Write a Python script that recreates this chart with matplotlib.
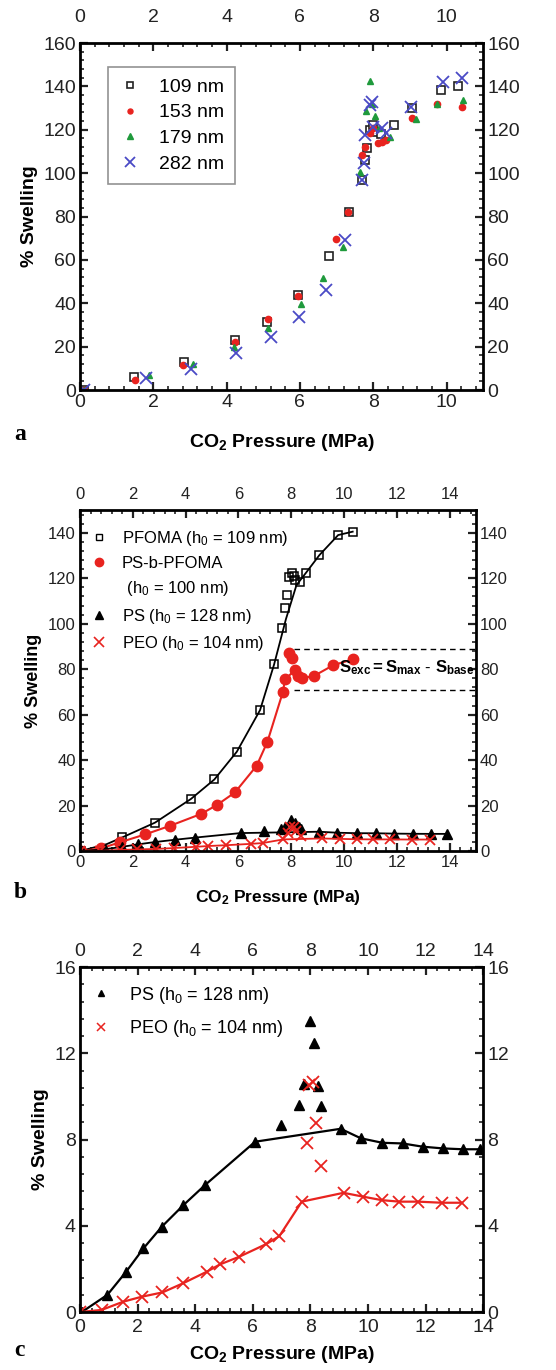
import matplotlib
matplotlib.use('Agg')
import matplotlib.pyplot as plt
from matplotlib.ticker import MultipleLocator, AutoMinorLocator
from matplotlib.lines import Line2D

plt.rcParams['font.family'] = ['Liberation Sans', 'DejaVu Sans']
plt.rcParams['mathtext.fontset'] = 'custom'
plt.rcParams['mathtext.rm'] = 'Liberation Sans'
plt.rcParams['mathtext.it'] = 'Liberation Sans:italic'
plt.rcParams['mathtext.bf'] = 'Liberation Sans:bold'

# ---- panel a: PFOMA films of different thickness ----
a109_x = [0.1, 1.48, 2.84, 4.23, 5.09, 5.95, 6.79, 7.34, 7.7, 7.77, 7.84, 7.9, 8.0, 8.1, 8.2, 8.57, 9.05, 9.84, 10.32]
a109_y = [0, 6.1, 12.8, 23, 31.5, 44, 61.8, 81.9, 97, 106, 111.7, 120, 122, 119, 118, 122, 130, 138.5, 140]
a153_x = [0.1, 1.49, 2.82, 4.23, 5.14, 5.95, 6.98, 7.3, 7.68, 7.77, 7.91, 8.0, 8.14, 8.25, 8.36, 9.06, 9.73, 10.41]
a153_y = [0, 4.6, 11.5, 22.3, 32.6, 43.5, 69.5, 82, 108.3, 112, 118.3, 121, 113.7, 114.5, 115.3, 125.3, 131.7, 130.6]
a179_x = [0.1, 1.89, 3.07, 4.21, 5.14, 6.02, 6.62, 7.18, 7.64, 7.8, 7.91, 7.98, 8.05, 8.15, 8.45, 9.16, 9.75, 10.45]
a179_y = [0, 6.9, 12, 20, 28.4, 39.5, 51.8, 66, 100.6, 128.6, 142.5, 132, 126.3, 121, 116.8, 125, 131.7, 133.7]
a282_x = [0.1, 1.79, 3.02, 4.25, 5.2, 5.98, 6.7, 7.23, 7.68, 7.75, 7.77, 7.91, 7.96, 8.0, 8.23, 8.36, 9.03, 9.91, 10.41]
a282_y = [0, 5.4, 9.7, 16.9, 24.6, 33.5, 46.1, 69.2, 96.8, 104.5, 117.6, 131.4, 133, 121.4, 120.6, 118.6, 130.5, 142.1, 143.7]

# ---- panel b ----
pfoma_x = [0.05, 1.6, 2.84, 4.2, 5.09, 5.94, 6.82, 7.35, 7.64, 7.77, 7.83, 7.92, 8.02, 8.1, 8.14, 8.33, 8.56, 9.07, 9.78, 10.33]
pfoma_y = [0, 6.3, 12.5, 22.9, 31.5, 43.7, 62, 82.3, 98, 106.8, 112.6, 120.4, 122.1, 121, 119.2, 118.5, 122.4, 130.2, 139, 140.5]
pfoma_fit_x = [0, 1, 1.6, 2.84, 4.2, 5.09, 5.94, 6.82, 7.35, 7.8, 8.2, 8.56, 9.07, 9.78, 10.33]
pfoma_fit_y = [0, 3, 6, 12.5, 22.9, 31.5, 43.7, 62, 82, 102, 117, 122.4, 130.2, 139, 140.5]
bcp_x = [0.05, 0.8, 1.5, 2.46, 3.41, 4.58, 5.18, 5.87, 6.69, 7.1, 7.68, 7.77, 7.93, 8.02, 8.14, 8.27, 8.4, 8.86, 9.6, 10.33]
bcp_y = [0, 1.2, 3.8, 7.3, 11.1, 16.3, 20.2, 25.8, 37.5, 48.1, 69.8, 75.5, 87, 84.8, 79.6, 77, 76, 77, 81.8, 84.3]
bcp_peak = [12, 13]          # points left off the connecting line
sexc_levels = [89, 71]       # S_max and S_base dashed lines
sexc_xrange = [8.1, 15]

# ---- PS and PEO (panels b and c) ----
ps_x = [0.06, 0.95, 1.6, 2.2, 2.84, 3.59, 4.34, 6.08, 6.98, 7.61, 7.78, 7.99, 8.14, 8.28, 8.37, 9.05, 9.75, 10.5, 11.2, 11.9, 12.6, 13.29, 13.9]
ps_y = [0, 0.8, 1.87, 2.95, 3.96, 4.96, 5.89, 7.9, 8.67, 9.6, 10.6, 13.5, 12.5, 10.5, 9.55, 8.5, 8.06, 7.85, 7.82, 7.67, 7.59, 7.55, 7.55]
ps_peak = list(range(8, 15))
peo_x = [0.0, 0.75, 1.5, 2.14, 2.86, 3.57, 4.4, 4.86, 5.52, 6.46, 6.92, 7.7, 7.87, 7.95, 8.1, 8.2, 8.37, 9.15, 9.84, 10.48, 11.09, 11.75, 12.56, 13.26]
peo_y = [0, 0.1, 0.48, 0.71, 0.91, 1.33, 1.87, 2.21, 2.56, 3.15, 3.52, 5.12, 7.85, 10.55, 10.65, 8.78, 6.79, 5.53, 5.35, 5.19, 5.12, 5.12, 5.07, 5.07]
peo_peak = list(range(12, 17))

RED = '#e8231f'
GREEN = '#1f9a3c'
BLUE = '#4a4ac6'


def drop(v, idx):
    return [val for i, val in enumerate(v) if i not in idx]


def style_axes(ax, xmax, xstep, ymax, ystep, size, top_pad):
    ax.set_xlim(0, xmax)
    ax.set_ylim(0, ymax)
    ax.xaxis.set_major_locator(MultipleLocator(xstep))
    ax.yaxis.set_major_locator(MultipleLocator(ystep))
    ax.xaxis.set_minor_locator(AutoMinorLocator(5))
    ax.yaxis.set_minor_locator(AutoMinorLocator(5))
    ax.tick_params(which='both', direction='in', top=True, right=True,
                   labeltop=False, labelright=True, labelsize=size, colors='#222222')
    ax.tick_params(which='major', length=6, width=1.6, pad=3)
    ax.tick_params(which='minor', length=3, width=1.2)
    for s in ax.spines.values():
        s.set_linewidth(2)
    # top labels sit on their own axis so they can have a different gap
    top = ax.secondary_xaxis('top')
    top.xaxis.set_major_locator(MultipleLocator(xstep))
    top.tick_params(length=0, pad=top_pad, labelsize=size, colors='#222222')
    top.spines['top'].set_visible(False)


fig = plt.figure(figsize=(5.56, 13.7), dpi=100)

# panel a
ax1 = fig.add_axes([0.144, 0.7153, 0.725, 0.2533])
ax1.plot(a109_x, a109_y, 's', ms=6, mfc='white', mec='#222222', mew=1.2, ls='none', label='109 nm')
ax1.plot(a153_x, a153_y, 'o', ms=4.5, color=RED, ls='none', label='153 nm')
ax1.plot(a179_x, a179_y, '^', ms=5, color=GREEN, ls='none', label='179 nm')
ax1.plot(a282_x, a282_y, 'x', ms=8.5, mew=1.3, color=BLUE, ls='none', label='282 nm')
style_axes(ax1, 11, 2, 160, 20, 14, 12)
leg = ax1.legend(loc='upper left', bbox_to_anchor=(0.069, 0.93), borderaxespad=0,
                 fontsize=14, frameon=True, fancybox=False, edgecolor='#777777',
                 handletextpad=0.9, labelspacing=0.42, borderpad=0.55, markerscale=0.8,
                 handlelength=1.2)
leg.get_frame().set_linewidth(1.2)
ax1.set_ylabel('% Swelling', fontsize=14, fontweight='bold', labelpad=4)
ax1.set_xlabel(r'CO$_\mathbf{2}$ Pressure (MPa)', fontsize=14, fontweight='bold', labelpad=15)
fig.text(0.025, 1 - 440 / 1370, 'a', fontsize=17, fontweight='bold', family='Liberation Serif')

# panel b
ax2 = fig.add_axes([0.144, 0.3788, 0.712, 0.2489])
ax2.plot(pfoma_fit_x, pfoma_fit_y, '-', color='black', lw=1.3)
ax2.plot(pfoma_x, pfoma_y, 's', ms=5.5, mfc='none', mec='black', mew=1.1, ls='none')
ax2.plot(drop(bcp_x, bcp_peak), drop(bcp_y, bcp_peak), '-', color=RED, lw=1.5)
ax2.plot(bcp_x, bcp_y, 'o', ms=7.5, color=RED, ls='none')
ax2.plot(drop(ps_x, ps_peak), drop(ps_y, ps_peak), '-', color='black', lw=1.3)
ax2.plot(ps_x, ps_y, '^', ms=7, color='black', ls='none')
ax2.plot(drop(peo_x, peo_peak), drop(peo_y, peo_peak), '-', color=RED, lw=1.3)
ax2.plot(peo_x, peo_y, 'x', ms=7, mew=1.3, color=RED, ls='none')
ax2.hlines(sexc_levels, sexc_xrange[0], sexc_xrange[1], colors='black', linestyles=(0, (4, 3)), lw=1)
ax2.text(9.8, 80.5, r'$\mathbf{S}_{\mathbf{exc}}{\mathbf{=}}\mathbf{S}_{\mathbf{max}}\mathbf{\ \text{-}\ S}_{\mathbf{base}}$',
         fontsize=12, va='center', ha='left')
style_axes(ax2, 15, 2, 150, 20, 12, 6)
ax2.set_yticks(range(0, 141, 20))
hb = [Line2D([], [], marker='s', ls='none', mfc='none', mec='black', mew=1, ms=5),
      Line2D([], [], marker='o', ls='none', color=RED, ms=6),
      Line2D([], [], ls='none'),
      Line2D([], [], marker='^', ls='none', color='black', ms=6),
      Line2D([], [], marker='x', ls='none', color=RED, ms=7, mew=1.2)]
lb = ['PFOMA (h$_0$ = 109 nm)', 'PS-b-PFOMA', ' (h$_0$ = 100 nm)', 'PS (h$_0$ = 128 nm)', 'PEO (h$_0$ = 104 nm)']
ax2.legend(hb, lb, loc='upper left', bbox_to_anchor=(0.0, 0.965), borderaxespad=0,
           fontsize=12, frameon=False, handletextpad=0.6, labelspacing=0.5, handlelength=1.5)
ax2.set_ylabel('% Swelling', fontsize=13, fontweight='bold', labelpad=4)
ax2.set_xlabel(r'CO$_\mathbf{2}$ Pressure (MPa)', fontsize=12.5, fontweight='bold', labelpad=13)
fig.text(0.025, 1 - 898 / 1370, 'b', fontsize=17, fontweight='bold', family='Liberation Serif')

# panel c
ax3 = fig.add_axes([0.144, 0.0423, 0.725, 0.2518])
ax3.plot(drop(ps_x, ps_peak), drop(ps_y, ps_peak), '-', color='black', lw=1.6)
ax3.plot(ps_x, ps_y, '^', ms=7.5, color='black', ls='none')
ax3.plot(drop(peo_x, peo_peak), drop(peo_y, peo_peak), '-', color=RED, lw=1.6)
ax3.plot(peo_x, peo_y, 'x', ms=8, mew=1.3, color=RED, ls='none')
style_axes(ax3, 14, 2, 16, 4, 14, 5)
ax3.tick_params(axis='x', which='major', pad=5)
hc = [Line2D([], [], marker='^', ls='none', color='black', ms=5),
      Line2D([], [], marker='x', ls='none', color=RED, ms=6, mew=1.1)]
ax3.legend(hc, ['PS (h$_0$ = 128 nm)', 'PEO (h$_0$ = 104 nm)'], loc='upper left',
           bbox_to_anchor=(0.0, 0.97), borderaxespad=0, fontsize=13, frameon=False,
           handletextpad=0.8, labelspacing=0.7, handlelength=1.5)
ax3.set_ylabel('% Swelling', fontsize=14, fontweight='bold', labelpad=4)
ax3.set_xlabel(r'CO$_\mathbf{2}$ Pressure (MPa)', fontsize=14, fontweight='bold', labelpad=6)
fig.text(0.025, 1 - 1356 / 1370, 'c', fontsize=17, fontweight='bold', family='Liberation Serif')

fig.savefig('out.png', dpi=100)
